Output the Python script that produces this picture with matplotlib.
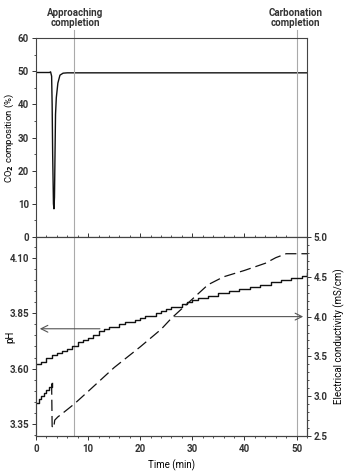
import matplotlib
matplotlib.use('Agg')

import numpy as np
import matplotlib.pyplot as plt
from matplotlib.ticker import MultipleLocator, FormatStrFormatter

# CO2 composition (top panel)
co2_t = [0, 2.6, 2.8, 3.0, 3.1, 3.2, 3.35, 3.45, 3.55, 3.65, 3.75, 3.9, 4.2, 4.6, 5.2, 6, 52]
co2_v = [49.6, 49.6, 49.8, 48.5, 40, 25, 10, 8.5, 12, 25, 37, 42, 46.4, 48.8, 49.4, 49.5, 49.5]

# pH readings, one per minute
ph_t = list(range(0, 53))
ph_v = [3.62, 3.63, 3.65, 3.66, 3.67, 3.68, 3.69, 3.70, 3.72, 3.73,
        3.74, 3.75, 3.77, 3.78, 3.79, 3.79, 3.80, 3.81, 3.81, 3.82,
        3.83, 3.84, 3.84, 3.85, 3.86, 3.87, 3.88, 3.88, 3.89, 3.90,
        3.91, 3.92, 3.92, 3.93, 3.93, 3.94, 3.94, 3.95, 3.95, 3.96,
        3.96, 3.97, 3.97, 3.98, 3.98, 3.99, 3.99, 4.00, 4.00, 4.01,
        4.01, 4.02, 4.03]

# electrical conductivity: dense initial part, then dashed
ec0_t = [0, 0.5, 1.0, 1.5, 2.0, 2.5, 3.0]
ec0_v = [2.92, 2.96, 3.00, 3.04, 3.08, 3.12, 3.16]
ec_t = [3.0, 3.1, 3.4, 3.6, 4.2, 5, 7.3, 10, 15, 20, 24, 26, 28, 30, 33, 36, 40, 44, 46, 48, 52]
ec_v = [3.16, 2.62, 2.60, 2.70, 2.74, 2.78, 2.90, 3.06, 3.36, 3.62, 3.84, 3.98, 4.10, 4.22,
        4.40, 4.50, 4.58, 4.67, 4.74, 4.79, 4.79]

marks_t = [7.3, 50]

plt.rcParams['font.family'] = ['Roboto', 'DejaVu Sans']
plt.rcParams['font.size'] = 7
plt.rcParams['font.weight'] = 'bold'
plt.rcParams['text.color'] = '#333333'
plt.rcParams['xtick.color'] = '#333333'
plt.rcParams['ytick.color'] = '#333333'

fig = plt.figure(figsize=(3.47, 4.71), dpi=100)
ax1 = fig.add_axes([0.1037, 0.4968, 0.781, 0.4225])
ax2 = fig.add_axes([0.1037, 0.0743, 0.781, 0.4225])

for a in (ax1, ax2):
    for s in a.spines.values():
        s.set_color('#444444')
        s.set_linewidth(0.8)

# top panel
ax1.plot(co2_t, co2_v, color='#111111', lw=1.0)
ax1.set_xlim(0, 52)
ax1.set_ylim(0, 60)
ax1.yaxis.set_major_locator(MultipleLocator(10))
ax1.yaxis.set_minor_locator(MultipleLocator(5))
ax1.xaxis.set_major_locator(MultipleLocator(10))
ax1.xaxis.set_minor_locator(MultipleLocator(2))
ax1.tick_params(axis='x', which='both', direction='in', labelbottom=False)
ax1.tick_params(axis='x', which='major', length=3, width=0.7)
ax1.tick_params(axis='x', which='minor', length=1.5, width=0.6)
ax1.tick_params(axis='y', which='major', length=3, width=0.7, pad=2)
ax1.tick_params(axis='y', which='minor', length=1.5, width=0.6)
ax1.set_ylabel('CO$_2$ composition (%)', fontsize=6.8)
ax1.yaxis.set_label_coords(-0.075, 0.5)
for t in marks_t:
    ax1.plot([t, t], [0, 62.5], color='#aaaaaa', lw=0.8, clip_on=False)
ax1.text(7.5, 66, 'Approaching\ncompletion', ha='center', va='center', linespacing=1.0)
ax1.text(49.8, 66, 'Carbonation\ncompletion', ha='center', va='center', linespacing=1.0)

# bottom panel
for t in marks_t:
    ax2.axvline(t, color='#aaaaaa', lw=0.8)
ax2.step(ph_t, ph_v, where='post', color='#111111', lw=1.0)
ax2.set_xlim(0, 52)
ax2.set_ylim(3.295, 4.195)
ax2.set_yticks([3.35, 3.60, 3.85, 4.10])
ax2.set_yticklabels(['3.35', '3.60', '3.85', '4.10'])
ax2.yaxis.set_minor_locator(MultipleLocator(0.05))
ax2.xaxis.set_major_locator(MultipleLocator(10))
ax2.xaxis.set_minor_locator(MultipleLocator(2))
ax2.tick_params(axis='x', which='major', length=3, width=0.7, pad=3)
ax2.tick_params(axis='x', which='minor', length=1.5, width=0.6)
ax2.tick_params(axis='y', which='major', length=3, width=0.7, pad=2)
ax2.tick_params(axis='y', which='minor', length=1.5, width=0.6)
ax2.set_ylabel('pH')
ax2.yaxis.set_label_coords(-0.075, 0.5)
ax2.set_xlabel('Time (min)')
ax2.xaxis.set_label_coords(0.5, -0.118)

ax3 = ax2.twinx()
ax3.step(ec0_t, ec0_v, where='post', color='#111111', lw=1.0)
ax3.plot(ec_t, ec_v, color='#111111', lw=0.9, dashes=(9, 4))
ax3.set_ylim(2.5, 5.0)
ax3.yaxis.set_major_locator(MultipleLocator(0.5))
ax3.yaxis.set_minor_locator(MultipleLocator(0.1))
ax3.yaxis.set_major_formatter(FormatStrFormatter('%.1f'))
ax3.tick_params(axis='y', which='major', length=3, width=0.7, pad=2)
ax3.tick_params(axis='y', which='minor', length=1.5, width=0.6)
ax3.set_ylabel('Electrical conductivity (mS/cm)')
ax3.yaxis.set_label_coords(1.097, 0.5)
for s in ax3.spines.values():
    s.set_color('#444444')
    s.set_linewidth(0.8)

# arrows
ax2.annotate('', xy=(0.2, 3.78), xytext=(12.8, 3.78),
             arrowprops=dict(arrowstyle='->,head_length=0.7,head_width=0.35', color='#555555', lw=0.8))
ax3.annotate('', xy=(51.8, 4.0), xytext=(26, 4.0),
             arrowprops=dict(arrowstyle='->,head_length=0.7,head_width=0.35', color='#555555', lw=0.8))

fig.savefig('out.png', dpi=100)
